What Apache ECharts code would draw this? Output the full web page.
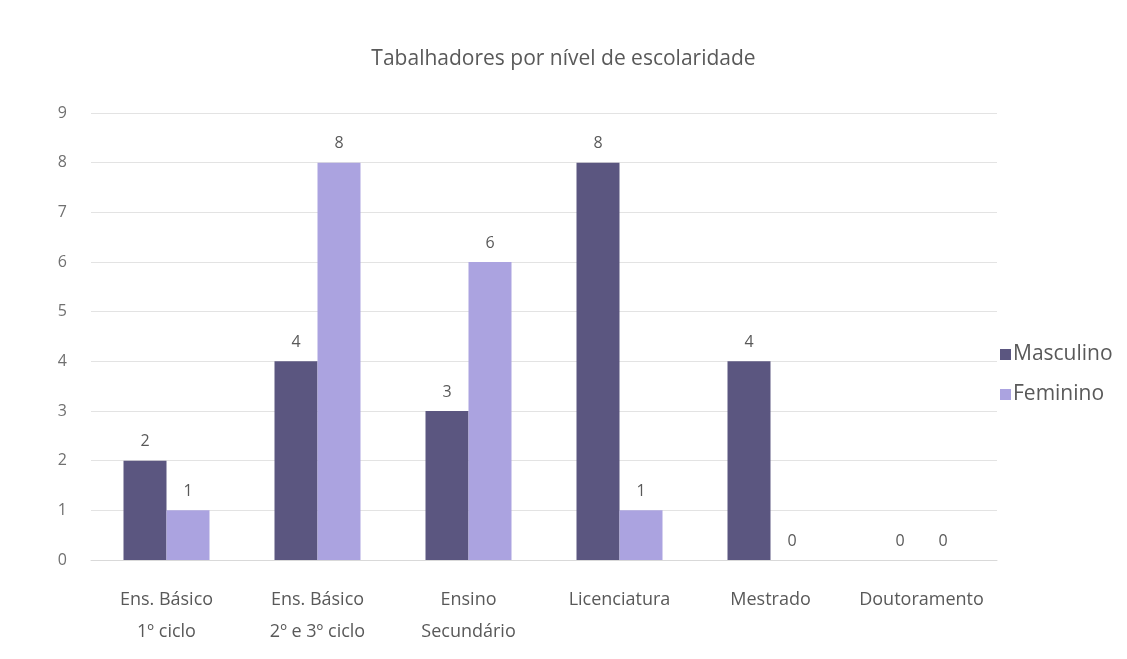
<!DOCTYPE html>
<html>
<head>
<meta charset="utf-8">
<title>Tabalhadores por nível de escolaridade</title>
<script src="https://cdn.jsdelivr.net/npm/echarts@6/dist/echarts.min.js"></script>
<style>
  html, body { margin: 0; padding: 0; background: #ffffff; }
  #chart { width: 1127px; height: 659px; }
</style>
</head>
<body>
<div id="chart"></div>
<script>
// Education levels (two-line axis labels)
const categories = [
  'Ens. Básico\n1º ciclo',
  'Ens. Básico\n2º e 3º ciclo',
  'Ensino\nSecundário',
  'Licenciatura',
  'Mestrado',
  'Doutoramento'
];
const seriesNames = ['Masculino', 'Feminino'];
const masculino = [2, 4, 3, 8, 4, 0];
const feminino = [1, 8, 6, 1, 0, 0];
const yTicks = [0, 1, 2, 3, 4, 5, 6, 7, 8, 9];

const FONT = '"Open Sans", Lato, sans-serif';
const colors = ['#5b5680', '#aba3e0'];

const chart = echarts.init(document.getElementById('chart'));

const barLabel = {
  show: true,
  position: 'top',
  distance: 11,
  color: '#595959',
  fontFamily: FONT,
  fontSize: 16
};

chart.setOption({
  backgroundColor: '#ffffff',
  animation: false,
  color: colors,
  title: {
    text: 'Tabalhadores por nível de escolaridade',
    left: 'center',
    top: 44,
    textStyle: { fontFamily: FONT, fontSize: 21, fontWeight: 'normal', color: '#595959' }
  },
  legend: {
    orient: 'vertical',
    left: 995,
    top: 339,
    itemWidth: 11,
    itemHeight: 11,
    itemGap: 19,
    icon: 'rect',
    data: seriesNames,
    textStyle: { fontFamily: FONT, fontSize: 21, color: '#595959', padding: [0, 0, 0, -3] }
  },
  grid: { left: 91, right: 130, top: 113, bottom: 99, containLabel: false },
  xAxis: {
    type: 'category',
    data: categories,
    axisTick: { show: false },
    axisLine: { lineStyle: { color: '#d9d9d9' } },
    axisLabel: {
      interval: 0,
      hideOverlap: false,
      fontFamily: FONT,
      fontSize: 18,
      color: '#595959',
      lineHeight: 32,
      margin: 24,
      verticalAlign: 'top'
    }
  },
  yAxis: {
    type: 'value',
    min: yTicks[0],
    max: yTicks[yTicks.length - 1],
    interval: 1,
    axisLine: { show: false },
    axisTick: { show: false },
    splitLine: { lineStyle: { color: '#e3e3e3' } },
    axisLabel: { fontFamily: FONT, fontSize: 16, color: '#707070', margin: 24 }
  },
  series: [
    {
      name: seriesNames[0],
      type: 'bar',
      data: masculino,
      barWidth: 43,
      barGap: '0%',
      label: barLabel
    },
    {
      name: seriesNames[1],
      type: 'bar',
      data: feminino,
      barWidth: 43,
      barGap: '0%',
      label: barLabel
    }
  ]
});
</script>
</body>
</html>
